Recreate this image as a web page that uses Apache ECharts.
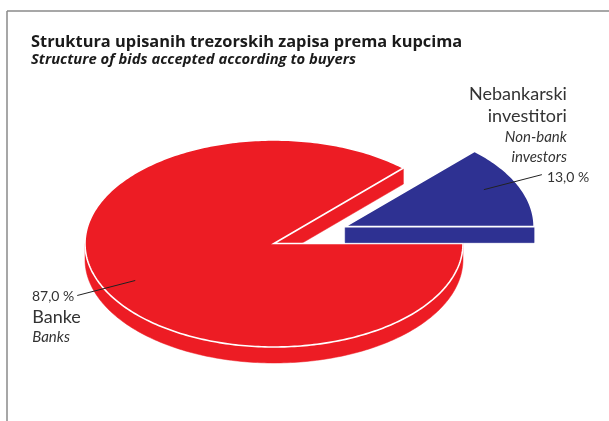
<!DOCTYPE html>
<html><head><meta charset="utf-8">
<script src="https://cdn.jsdelivr.net/npm/echarts@6/dist/echarts.min.js"></script>
<style>html,body{margin:0;padding:0;background:#fff}#c{width:609px;height:421px}</style>
</head><body><div id="c"></div><script>
// ---- data ----
const categories = ['Banke', 'Nebankarski\ninvestitori'];
const categoriesEn = ['Banks', 'Non-bank\ninvestors'];
const values = [87.0, 13.0];
const valueLabels = ['87,0 %', '13,0 %'];
const titleText = 'Struktura upisanih trezorskih zapisa prema kupcima';
const subtitleText = 'Structure of bids accepted according to buyers';

// ---- style / layout ----
const sliceColors = ['#ed1c24', '#2e3192'];
const sliceExplode = [0, 0.41];
const CX = 274, CY = 243.5, RX = 189, RY = 103.5, H = 16;
const FONT = 'Lato';
const TFONT = 'Open Sans';
const TXT = '#333333';

const total = values.reduce((a, b) => a + b, 0);
const rad = d => d * Math.PI / 180;

function renderItem(params, api) {
  const i = params.dataIndex;
  let start = 0;
  for (let k = 0; k < i; k++) start += values[k] / total * 360;
  const span = api.value(0) / total * 360;
  let a1 = -(start + span), a2 = -start;
  while (a1 < 0) { a1 += 360; a2 += 360; }
  const mid = (a1 + a2) / 2;
  const e = sliceExplode[i];
  const cx = CX + e * RX * Math.cos(rad(mid));
  const cy = CY - e * RY * Math.sin(rad(mid));
  const P = (t, dz) => [cx + RX * Math.cos(rad(t)), cy - RY * Math.sin(rad(t)) + (dz || 0)];
  const color = sliceColors[i];
  const children = [];
  const arc = (from, to, dz) => {
    const pts = [];
    const n = Math.max(2, Math.ceil(Math.abs(to - from)));
    for (let s = 0; s <= n; s++) pts.push(P(from + (to - from) * s / n, dz));
    return pts;
  };
  // outer wall (front half)
  [[180, 360], [540, 720]].forEach(([lo, hi]) => {
    const f = Math.max(lo, a1), t = Math.min(hi, a2);
    if (t > f) {
      const pts = arc(f, t, 0).concat(arc(t, f, H));
      children.push({ type: 'polygon', shape: { points: pts }, style: { fill: color, stroke: color, lineWidth: 0.5 } });
    }
  });
  // radial walls
  const wall = (t) => {
    const p = P(t, 0), q = P(t, H);
    children.push({ type: 'polygon', shape: { points: [[cx, cy], p, q, [cx, cy + H]] }, style: { fill: color, stroke: color, lineWidth: 0.5 } });
  };
  if (Math.cos(rad(a1)) > 1e-6) wall(a1);
  if (Math.cos(rad(a2)) < -1e-6) wall(a2);
  // top face
  const top = [[cx, cy]].concat(arc(a1, a2, 0));
  children.push({ type: 'polygon', shape: { points: top }, style: { fill: color, stroke: '#ffffff', lineWidth: 1.6, lineJoin: 'miter' } });
  // leader line + labels
  const side = Math.cos(rad(mid)) >= 0 ? 1 : -1;
  const ip = [cx + 0.8 * RX * Math.cos(rad(mid)), cy - 0.9 * RY * Math.sin(rad(mid))];
  const ep = [ip[0] + side * 58, ip[1] - side * 15];
  children.push({ type: 'line', shape: { x1: ip[0], y1: ip[1], x2: ep[0], y2: ep[1] }, style: { stroke: '#222', lineWidth: 1 } });
  if (side < 0) {
    children.push({ type: 'text', style: { text: valueLabels[i], x: ep[0] - 3, y: ep[1] + 1, align: 'right', verticalAlign: 'middle', fill: TXT, font: '14px ' + FONT } });
    children.push({ type: 'text', style: { text: categories[i], x: ep[0] - 45, y: ep[1] + 22, align: 'left', verticalAlign: 'middle', fill: TXT, font: '18px ' + FONT } });
    children.push({ type: 'text', style: { text: categoriesEn[i], x: ep[0] - 45, y: ep[1] + 42, align: 'left', verticalAlign: 'middle', fill: TXT, font: 'italic 15px ' + FONT } });
  } else {
    children.push({ type: 'text', style: { text: valueLabels[i], x: ep[0] + 5, y: ep[1] + 3, align: 'left', verticalAlign: 'middle', fill: TXT, font: '14px ' + FONT } });
    children.push({ type: 'text', style: { text: categories[i], x: ep[0] + 25, y: ep[1] - 69, align: 'right', verticalAlign: 'middle', lineHeight: 22, fill: TXT, font: '18px ' + FONT } });
    children.push({ type: 'text', style: { text: categoriesEn[i], x: ep[0] + 25, y: ep[1] - 27, align: 'right', verticalAlign: 'middle', lineHeight: 20, fill: TXT, font: 'italic 15px ' + FONT } });
  }
  return { type: 'group', children };
}

const chart = echarts.init(document.getElementById('c'), null, { renderer: 'canvas' });
chart.setOption({
  backgroundColor: '#ffffff',
  animation: false,
  title: {
    text: titleText, subtext: subtitleText, left: 26, top: 29, itemGap: 2,
    textStyle: { fontFamily: TFONT, fontWeight: 'bold', fontSize: 16.4, color: '#1a1a1a' },
    subtextStyle: { fontFamily: TFONT, fontWeight: 'bold', fontStyle: 'italic', fontSize: 14.8, color: '#1a1a1a' }
  },
  graphic: [
    { type: 'line', shape: { x1: 7, y1: 11, x2: 609, y2: 11 }, style: { stroke: '#8a8a8a', lineWidth: 1.5 } },
    { type: 'line', shape: { x1: 7, y1: 11, x2: 7, y2: 421 }, style: { stroke: '#8a8a8a', lineWidth: 1.5 } }
  ],
  series: [{
    type: 'custom', coordinateSystem: 'none', renderItem,
    data: values.map(v => [v])
  }]
});
</script></body></html>
